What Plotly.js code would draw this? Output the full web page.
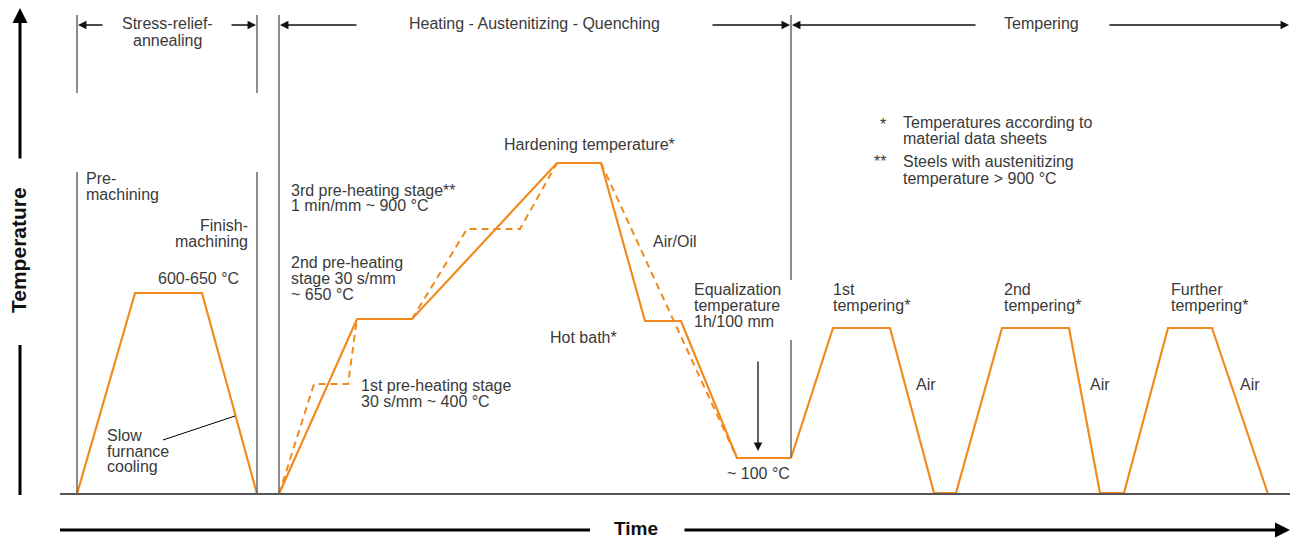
<!DOCTYPE html>
<html>
<head>
<meta charset="utf-8">
<script src="https://cdn.plot.ly/plotly-3.0.1.min.js"></script>
<style>html,body{margin:0;padding:0;background:#fff}#chart{width:1290px;height:540px}</style>
</head>
<body>
<div id="chart"></div>
<script>
// ---- Data (time units, temperature units above baseline) ----
var stressTime = [77, 135, 202, 257];
var stressTemp = [0, 201, 201, 0];

var hardenTime = [279, 357, 412, 557, 601, 645, 681, 737, 791];
var hardenTemp = [0, 175, 175, 331, 331, 173, 173, 36, 36];

var temperTime = [791, 833, 890, 934, 956, 1002, 1069, 1100, 1124, 1168, 1212, 1268];
var temperTemp = [36, 166, 166, 1, 1, 166, 166, 1, 1, 166, 166, 0];

var dashTime = [279, 314, 348, 357, null, 412, 467, 520, 557, null, 601, 737];
var dashTemp = [0, 110, 110, 175, null, 175, 265, 265, 331, null, 331, 36];

var phaseLabels = ["Stress-relief-", "annealing", "Heating - Austenitizing - Quenching", "Tempering"];
var axisLabels = ["Temperature", "Time"];

// ---- helpers for layout (pixel row -> y value) ----
var BASE = 494;
function Y(p) { return BASE - p; }
var ORANGE = '#F28A1E';
var GRAY = '#666666';
var TXT = '#3a3a3a';
var FONT = '"Liberation Sans", Arial, Helvetica, sans-serif';

var traces = [
  {x: stressTime, y: stressTemp, mode: 'lines', line: {color: ORANGE, width: 2.2}, cliponaxis: false, hoverinfo: 'skip'},
  {x: hardenTime, y: hardenTemp, mode: 'lines', line: {color: ORANGE, width: 2.2}, cliponaxis: false, hoverinfo: 'skip'},
  {x: temperTime, y: temperTemp, mode: 'lines', line: {color: ORANGE, width: 2.2}, cliponaxis: false, hoverinfo: 'skip'},
  {x: dashTime, y: dashTemp, mode: 'lines', connectgaps: false, line: {color: ORANGE, width: 2, dash: '7px,5px'}, cliponaxis: false, hoverinfo: 'skip'}
];

function vline(x, p0, p1, color, w) {
  return {type: 'line', xref: 'x', yref: 'y', x0: x, x1: x, y0: Y(p0), y1: Y(p1), line: {color: color || GRAY, width: w || 1.5}};
}
function hline(x0, x1, p, color, w) {
  return {type: 'line', xref: 'x', yref: 'y', x0: x0, x1: x1, y0: Y(p), y1: Y(p), line: {color: color || GRAY, width: w || 1.5}};
}

var shapes = [
  hline(60, 1290, 494, '#555555', 2),
  vline(77, 15, 93), vline(77, 172, 494),
  vline(257, 15, 93), vline(257, 172, 494),
  vline(279, 15, 494),
  vline(791, 15, 280), vline(791, 340, 458),
  // temperature axis lower part
  vline(20, 495, 345, '#000', 3),
  // time axis left part
  hline(60, 590, 530, '#000', 3),
  // pointer for slow furnace cooling
  {type: 'line', xref: 'x', yref: 'y', x0: 163, y0: Y(440), x1: 235, y1: Y(416), line: {color: '#000', width: 1}}
];

function arrow(xTip, pTip, xTail, pTail, w, size, color) {
  return {x: xTip, y: Y(pTip), ax: xTail, ay: Y(pTail), xref: 'x', yref: 'y', axref: 'x', ayref: 'y',
          text: '', showarrow: true, arrowhead: 2, arrowsize: size || 1.3, arrowwidth: w || 1.3,
          arrowcolor: color || '#111', standoff: 0, startstandoff: 0};
}

function lbl(text, x, p, anchor, opts) {
  opts = opts || {};
  return {x: x, y: Y(p), xref: 'x', yref: 'y', text: text, showarrow: false,
          xanchor: anchor || 'left', yanchor: 'middle', borderpad: 0,
          font: {family: FONT, size: opts.size || 16, color: opts.color || TXT, weight: opts.weight || 'normal'},
          textangle: opts.angle || 0};
}

var annotations = [
  // header arrows
  arrow(78, 25, 104, 25), arrow(256, 25, 230, 25),
  arrow(280, 25, 358, 25), arrow(790, 25, 711, 25),
  arrow(792, 25, 977, 25), arrow(1289, 25, 1108, 25),
  // axes arrows
  arrow(20, 8, 20, 160, 3, 1.0, '#000'),
  arrow(1290, 530, 683, 530, 3, 1.0, '#000'),
  // equalization arrow
  arrow(758, 451, 758, 360, 1.3, 1.3, '#111'),

  lbl(phaseLabels[0], 167, 23, 'center'),
  lbl(phaseLabels[1], 167, 40, 'center'),
  lbl(phaseLabels[2], 534, 23, 'center'),
  lbl(phaseLabels[3], 1041, 23, 'center'),

  lbl('Pre-', 85, 178, 'left'),
  lbl('machining', 85, 194, 'left'),
  lbl('Finish-', 249, 225, 'right'),
  lbl('machining', 249, 241, 'right'),
  lbl('600-650 °C', 198, 278, 'center'),
  lbl('Slow', 106, 435, 'left'),
  lbl('furnance', 106, 451, 'left'),
  lbl('cooling', 106, 466, 'left'),

  lbl('3rd pre-heating stage**', 290, 190, 'left'),
  lbl('1 min/mm ~ 900 °C', 290, 205, 'left'),
  lbl('2nd pre-heating', 290, 262, 'left'),
  lbl('stage 30 s/mm', 290, 278, 'left'),
  lbl('~ 650 °C', 290, 294, 'left'),
  lbl('1st pre-heating stage', 360, 385, 'left'),
  lbl('30 s/mm ~ 400 °C', 360, 401, 'left'),
  lbl('Hardening temperature*', 589, 144, 'center'),
  lbl('Hot bath*', 583, 337, 'center'),
  lbl('Air/Oil', 652, 241, 'left'),
  lbl('Equalization', 693, 289, 'left'),
  lbl('temperature', 693, 305, 'left'),
  lbl('1h/100 mm', 693, 321, 'left'),
  lbl('~ 100 °C', 758, 473, 'center'),

  lbl('*', 883, 124, 'center'),
  lbl('Temperatures according to', 902, 122, 'left'),
  lbl('material data sheets', 902, 138, 'left'),
  lbl('**', 880, 161, 'center'),
  lbl('Steels with austenitizing', 902, 161, 'left'),
  lbl('temperature > 900 °C', 902, 178, 'left'),

  lbl('1st', 832, 289, 'left'),
  lbl('tempering*', 832, 305, 'left'),
  lbl('2nd', 1003, 289, 'left'),
  lbl('tempering*', 1003, 305, 'left'),
  lbl('Further', 1170, 289, 'left'),
  lbl('tempering*', 1170, 305, 'left'),
  lbl('Air', 915, 384, 'left'),
  lbl('Air', 1089, 384, 'left'),
  lbl('Air', 1239, 384, 'left'),

  lbl(axisLabels[0], 18, 250, 'center', {size: 21, weight: 'bold', color: '#111', angle: -90}),
  lbl(axisLabels[1], 636, 528, 'center', {size: 19, weight: 'bold', color: '#111'})
];

var layout = {
  width: 1290, height: 540,
  margin: {l: 0, r: 0, t: 0, b: 0, pad: 0},
  paper_bgcolor: '#fff', plot_bgcolor: '#fff',
  showlegend: false,
  xaxis: {range: [0, 1290], visible: false, fixedrange: true},
  yaxis: {range: [BASE - 540, BASE], visible: false, fixedrange: true},
  shapes: shapes,
  annotations: annotations,
  font: {family: FONT}
};

Plotly.newPlot('chart', traces, layout, {staticPlot: true, displayModeBar: false});
</script>
</body>
</html>
